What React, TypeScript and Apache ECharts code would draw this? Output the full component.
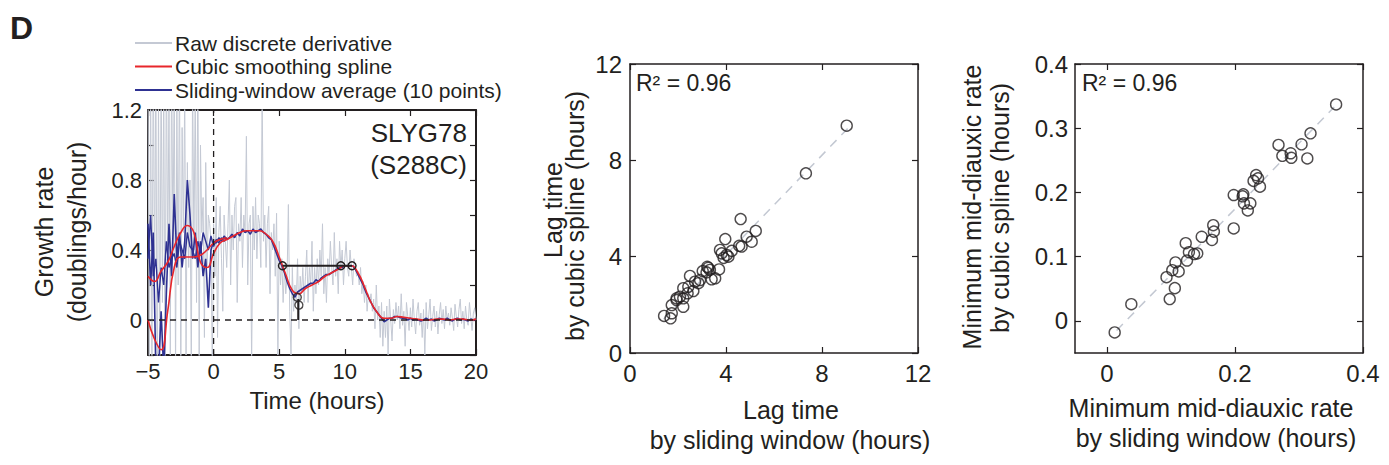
import React, { useEffect, useRef } from "react";
import * as echarts from "echarts";

const FONT = "'Liberation Sans', Arial, Helvetica, sans-serif";
const INK = "#231f20";
const GRAY = "#c4c9d4";
const RED = "#e8262b";
const BLUE = "#2e3192";

// ---------- Panel 1: growth-rate curves ----------
const RAW_T0 = -5;
const RAW_DT = 0.1;
const rawRate = [
  1.5, -0.5, 1.4, -0.4, 1.6, 0.2, 1.5, -0.6, 1.3, -0.3,
  1.5, 0.1, 1.4, -0.5, 1.6, 0.3, 1.3, -0.2, 1.5, 0.4,
  1.4, -0.3, 1.2, 0.2, 1.5, -0.4, 1.1, 0.5, 1.3, -0.2,
  0.9, 0.3, 0.8, -0.3, 1.4, 0.4, 1.3, 0.1, 1.5, -0.3,
  1.0, 0.5, 0.7, -0.1, 0.9, 0.3, 0.6, 0.55, 0.45, -0.3,
  0.55, 0.25, 0.7, -0.1, 0.5, 0.65, 0.35, 0.05, 0.6, 0.45,
  0.3, 0.55, 0.8, 0.2, 0.6, 0.4, 0.65, 0.7, 0.1, 0.55,
  0.45, 0.7, 0.3, 0.6, 0.5, 1.05, 0.2, 0.55, 0.6, -0.25,
  0.65, 0.4, 0.7, 0.35, 0.6, 0.55, 0.3, 1.3, 0.45, 0.6,
  0.3, 0.55, 0.65, 0.15, 0.5, 0.4, 0.55, 0.25, 0.61, -0.2,
  0.45, 0.2, 0.35, 0.1, 0.3, 0.15, 0.25, 0.66, 0.05, -0.2,
  0.3, 0.05, 0.2, 0.1, 0.35, -0.05, 0.25, 0.15, 0.3, 0.1,
  0.25, 0.4, 0.1, 0.3, 0.2, 0.45, 0.05, 0.3, 0.15, 0.35,
  0.2, 0.4, 0.25, 0.55, 0.15, 0.3, 0.1, 0.35, 0.25, 0.45,
  0.3, 0.2, 0.5, 0.25, 0.35, 0.15, 0.45, 0.3, 0.4, 0.2,
  0.35, 0.45, 0.3, 0.25, 0.4, 0.3, 0.2, 0.35, 0.3, 0.25,
  0.28, 0.2, 0.3, 0.15, 0.22, 0.1, 0.2, 0.05, 0.15, 0.1,
  0.15, 0.05, 0.12, -0.05, 0.2, 0.0, 0.08, -0.1, 0.1, -0.15,
  0.05, -0.1, 0.08, -0.2, 0.12, 0.0, -0.12, 0.06, -0.02, 0.1,
  0.0, 0.08, -0.05, 0.15, -0.03, 0.05, -0.15, 0.1, 0.02, -0.06,
  0.07, -0.04, 0.12, 0.0, -0.08, 0.05, 0.1, -0.03, 0.04, -0.1,
  0.06, -0.2, 0.1, -0.05, 0.03, 0.12, -0.06, 0.02, 0.08, -0.04,
  0.05, -0.08, 0.03, 0.1, -0.02, 0.06, -0.05, 0.08, 0.0, 0.04,
  -0.03, 0.07, 0.01, -0.06, 0.09, 0.02, -0.04, 0.06, 0.12, -0.02,
  0.05, -0.05, 0.08, 0.0, -0.03, 0.1, 0.02, -0.06, 0.04, 0.07,
  0.0,
];

const BLUE_T0 = -5;
const BLUE_DT = 0.2;
const blueMain = [
  0.55, 0.2, 0.5, -0.3, -0.3,
  0.05, -0.3, 0.15, 0.55, 0.25,
  0.72, 0.35, 0.5, 0.3, 0.45,
  0.8, 0.6, 0.35, 0.5, 0.3,
  0.45, 0.25, 0.35, 0.07, 0.4,
  0.45, 0.44, 0.47, 0.45, 0.48,
  0.46, 0.47, 0.49, 0.47, 0.5,
  0.48, 0.52, 0.5, 0.51, 0.49,
  0.52, 0.5, 0.51, 0.52, 0.5,
  0.49, 0.47, 0.46, 0.42, 0.38,
  0.34, 0.31, 0.27, 0.22, 0.18,
  0.15, 0.13, 0.16, 0.17, 0.18,
  0.19, 0.2, 0.21, 0.21, 0.23,
  0.22, 0.24, 0.25, 0.26, 0.26,
  0.27, 0.28, 0.29, 0.3, 0.3,
  0.31, 0.31, 0.31, 0.31, 0.29,
  0.26, 0.23, 0.2, 0.16, 0.13,
  0.1, 0.07, 0.05, 0.03, 0.01,
  -0.01, 0.0, 0.01, 0.01, 0.02,
  0.02, 0.015, 0.01, 0.01, 0.0,
  0.01, 0.0, 0.005, 0.0, -0.005,
  0.0, 0.01, 0.0, 0.005, -0.005,
  0.0, 0.01, 0.005, 0.0, 0.01,
  0.0, -0.005, 0.005, 0.01, 0.0,
  0.005, 0.0, -0.005, 0.005, 0.0,
  0.005,
];
const blueEarly = [
  0.35, 0.6, 0.25, 0.35, 0.1,
  0.3, 0.2, 0.45, 0.3, 0.35,
  0.38, 0.3, 0.45, 0.4, 0.35,
  0.5, 0.42, 0.4, 0.35, 0.45,
  0.38, 0.5, 0.45, 0.4, 0.48,
  0.42, 0.46, 0.44, 0.47, 0.45,
  0.47,
];

const RED_T0 = -5;
const RED_DT = 0.5;
const redMain = [
  0.25, 0.22, 0.28, 0.33, 0.42, 0.5, 0.54, 0.5, 0.33, 0.3,
  0.38, 0.44, 0.46, 0.48, 0.5, 0.51, 0.51, 0.51, 0.49, 0.45,
  0.36, 0.26, 0.17, 0.15, 0.18, 0.2, 0.22, 0.25, 0.27, 0.29,
  0.31, 0.31, 0.27, 0.19, 0.1, 0.04, 0.01, 0.01, 0.02, 0.015,
  0.01, 0.005, 0.0, 0.0, 0.005, 0.005, 0.0, 0.005, 0.005, 0.0,
  0.005,
];
const redEarly = [0.0, -0.11, -0.17, 0.05, 0.3, 0.36, 0.36, 0.36, 0.37, 0.4, 0.44, 0.46, 0.47];

const lagMarks = [[5.25, 0.31], [9.7, 0.31], [10.55, 0.31]];
const dipStem = [[6.45, 0], [6.45, 0.12]];
const dipMarks = [[6.38, 0.13], [6.5, 0.085]];
const zeroTimeLine = [[0, -0.2], [0, 1.2]];
const zeroRateLine = [[-5, 0], [20, 0]];

const timeTicks = [-5, 0, 5, 10, 15, 20];
const rateLabels = [0, 0.4, 0.8, 1.2];

// ---------- Panel 2: lag time ----------
const lagSliding = [9.03, 7.33, 4.61, 3.97, 5.24, 4.86, 5.07, 4.65, 4.55, 4.24, 4.03, 3.75, 3.82, 3.71, 3.4, 3.26, 3.19, 3.03, 2.92, 2.71, 2.5, 2.43, 2.22, 2.64, 2.4, 2.08, 2.22, 1.94, 2.22, 1.74, 1.94, 1.74, 1.69, 1.42, 3.33, 3.22, 3.55, 2.85, 4.1, 3.9];
const lagSpline = [9.44, 7.46, 5.56, 4.73, 5.07, 4.83, 4.62, 4.42, 4.45, 4.24, 4.07, 4.28, 4.14, 3.47, 3.06, 3.54, 3.35, 3.4, 3.03, 2.96, 3.2, 2.75, 2.69, 2.57, 2.48, 2.34, 2.27, 2.27, 1.92, 1.99, 2.2, 1.65, 1.44, 1.54, 3.45, 3.58, 3.1, 2.9, 4.0, 3.95];
const lagFit = [[1.4, 1.4], [9.1, 9.35]];
const lagTicks = [0, 4, 8, 12];

// ---------- Panel 3: minimum mid-diauxic rate ----------
const rateSliding = [0.358, 0.318, 0.304, 0.313, 0.287, 0.288, 0.274, 0.268, 0.233, 0.236, 0.229, 0.239, 0.213, 0.198, 0.212, 0.214, 0.224, 0.22, 0.198, 0.166, 0.167, 0.164, 0.148, 0.141, 0.128, 0.123, 0.125, 0.107, 0.112, 0.102, 0.093, 0.106, 0.098, 0.038, 0.012, 0.136];
const rateSpline = [0.337, 0.292, 0.275, 0.253, 0.261, 0.254, 0.257, 0.274, 0.227, 0.222, 0.218, 0.209, 0.197, 0.196, 0.194, 0.183, 0.183, 0.172, 0.144, 0.149, 0.139, 0.126, 0.131, 0.105, 0.107, 0.121, 0.094, 0.091, 0.077, 0.079, 0.068, 0.051, 0.034, 0.026, -0.018, 0.104];
const rateFit = [[0.015, -0.015], [0.355, 0.333]];
const rateXTicks = [0, 0.2, 0.4];
const rateYTicks = [0, 0.1, 0.2, 0.3, 0.4];

const r2Text = "R\u00B2 = 0.96";

const fmt = (v: number) => {
  const r = Math.round(v * 1000) / 1000;
  return r < 0 ? "\u2212" + String(Math.abs(r)) : String(r);
};

const grids = [
  { left: 148, top: 110, width: 328, height: 245 },
  { left: 630, top: 64, width: 288, height: 289 },
  { left: 1075, top: 64, width: 288, height: 289 },
];

function makeAxis(kind: "x" | "y", gridIndex: number, min: number, max: number, interval: number, lw: number, tickVals: number[] | null, labelVals: number[] | null, mirror: boolean, margin: number, fontSize: number) {
  const position = kind === "x" ? (mirror ? "top" : "bottom") : mirror ? "right" : "left";
  const tick: any = { show: true, inside: true, length: 6, lineStyle: { color: INK, width: 1.2 } };
  if (tickVals) tick.customValues = tickVals;
  const label: any = {
    show: !mirror,
    color: INK,
    fontFamily: FONT,
    fontSize,
    margin,
    formatter: (v: number) => fmt(v),
  };
  if (labelVals) label.customValues = labelVals;
  return {
    type: "value",
    gridIndex,
    position,
    min,
    max,
    interval,
    axisLine: { show: true, onZero: false, lineStyle: { color: INK, width: lw } },
    axisTick: tick,
    axisLabel: label,
    splitLine: { show: false },
  };
}

const pairs = (t0: number, dt: number, vals: number[]) => vals.map((v, i) => [+(t0 + i * dt).toFixed(3), v]);
const zip = (xs: number[], ys: number[]) => xs.map((x, i) => [x, ys[i]]);

const lineBase = { type: "line", showSymbol: false, symbol: "none", silent: true, clip: true, xAxisIndex: 0, yAxisIndex: 0 };
const openCircle = { color: "rgba(0,0,0,0)", borderColor: INK, borderWidth: 1.4 };

const txt = (text: string, x: number, y: number, size: number, extra: any = {}, rotation = 0) => ({
  type: "text",
  x,
  y,
  rotation,
  silent: true,
  style: { text, fontSize: size, fontFamily: FONT, fill: INK, align: "center", verticalAlign: "middle", ...extra },
});

const option: any = {
  animation: false,
  backgroundColor: "#ffffff",
  grid: grids.map((g) => ({ ...g, containLabel: false, outerBoundsMode: "none" })),
  xAxis: [
    makeAxis("x", 0, -5, 20, 5, 2, null, timeTicks, false, 5, 22),
    makeAxis("x", 0, -5, 20, 5, 2, null, null, true, 5, 22),
    makeAxis("x", 1, 0, 12, 4, 1.5, null, lagTicks, false, 8, 24),
    makeAxis("x", 1, 0, 12, 4, 1.5, null, null, true, 8, 24),
    makeAxis("x", 2, -0.05, 0.4, 0.05, 1.5, rateXTicks, rateXTicks, false, 8, 24),
    makeAxis("x", 2, -0.05, 0.4, 0.05, 1.5, rateXTicks, [], true, 8, 24),
  ],
  yAxis: [
    makeAxis("y", 0, -0.2, 1.2, 0.2, 2, null, rateLabels, false, 6, 22),
    makeAxis("y", 0, -0.2, 1.2, 0.2, 2, null, [], true, 6, 22),
    makeAxis("y", 1, 0, 12, 4, 1.5, null, lagTicks, false, 8, 24),
    makeAxis("y", 1, 0, 12, 4, 1.5, null, null, true, 8, 24),
    makeAxis("y", 2, -0.05, 0.4, 0.05, 1.5, rateYTicks, rateYTicks, false, 7, 24),
    makeAxis("y", 2, -0.05, 0.4, 0.05, 1.5, rateYTicks, [], true, 7, 24),
  ],
  legend: {
    show: true,
    orient: "vertical",
    left: 135,
    top: 32,
    padding: 0,
    itemGap: 1.5,
    itemWidth: 37,
    itemHeight: 2,
    icon: "rect",
    selectedMode: false,
    textStyle: { color: INK, fontFamily: FONT, fontSize: 21, lineHeight: 22, padding: [0, 0, 0, -2] },
    data: ["Raw discrete derivative", "Cubic smoothing spline", "Sliding-window average (10 points)"],
  },
  series: [
    { ...lineBase, name: "Raw discrete derivative", data: pairs(RAW_T0, RAW_DT, rawRate), color: GRAY, lineStyle: { color: GRAY, width: 1 }, z: 1 },
    { ...lineBase, name: "Sliding-window average (10 points)", data: pairs(BLUE_T0, BLUE_DT, blueEarly), color: BLUE, lineStyle: { color: BLUE, width: 1.4 }, z: 2 },
    { ...lineBase, name: "Sliding-window average (10 points)", data: pairs(BLUE_T0, BLUE_DT, blueMain), color: BLUE, lineStyle: { color: BLUE, width: 1.6 }, z: 3 },
    { ...lineBase, name: "Cubic smoothing spline", data: pairs(RED_T0, RED_DT, redEarly), smooth: 0.5, color: RED, lineStyle: { color: RED, width: 1.6 }, z: 4 },
    { ...lineBase, name: "Cubic smoothing spline", data: pairs(RED_T0, RED_DT, redMain), smooth: 0.5, color: RED, lineStyle: { color: RED, width: 1.6 }, z: 4 },
    { ...lineBase, name: "zeroTime", data: zeroTimeLine, lineStyle: { color: INK, width: 1.3, type: [6, 5] }, z: 5 },
    { ...lineBase, name: "zeroRate", data: zeroRateLine, lineStyle: { color: INK, width: 1.3, type: [6, 5] }, z: 5 },
    { ...lineBase, name: "lagMarks", data: lagMarks, showSymbol: true, symbol: "circle", symbolSize: 8, itemStyle: openCircle, lineStyle: { color: INK, width: 2 }, z: 6 },
    { ...lineBase, name: "dipStem", data: dipStem, lineStyle: { color: INK, width: 2 }, z: 6 },
    { type: "scatter", name: "dipMarks", xAxisIndex: 0, yAxisIndex: 0, data: dipMarks, symbol: "circle", symbolSize: 8, itemStyle: openCircle, silent: true, z: 7 },

    { ...lineBase, name: "lagFit", xAxisIndex: 2, yAxisIndex: 2, data: lagFit, lineStyle: { color: "#c3c8d2", width: 1.5, type: [9, 7] }, z: 1 },
    { type: "scatter", name: "lag", xAxisIndex: 2, yAxisIndex: 2, data: zip(lagSliding, lagSpline), symbol: "circle", symbolSize: 11, itemStyle: openCircle, silent: true, z: 3 },

    { ...lineBase, name: "rateFit", xAxisIndex: 4, yAxisIndex: 4, data: rateFit, lineStyle: { color: "#c3c8d2", width: 1.5, type: [9, 7] }, z: 1 },
    { type: "scatter", name: "rate", xAxisIndex: 4, yAxisIndex: 4, data: zip(rateSliding, rateSpline), symbol: "circle", symbolSize: 11, itemStyle: openCircle, silent: true, z: 3 },
  ],
  graphic: [
    txt("D", 10, 28, 32, { fontWeight: "bold", align: "left" }),
    txt("SLYG78", 467, 133, 26, { align: "right" }),
    txt("(S288C)", 467, 165, 26, { align: "right" }),
    txt("Growth rate", 44, 232, 25, {}, Math.PI / 2),
    txt("(doublings/hour)", 77, 232, 25, {}, Math.PI / 2),
    txt("Time (hours)", 317, 400, 24),
    txt("Lag time", 553, 210, 25, {}, Math.PI / 2),
    txt("by cubic spline (hours)", 575, 216, 25, {}, Math.PI / 2),
    txt("Lag time", 791, 410, 25),
    txt("by sliding window (hours)", 790, 440, 25),
    txt(r2Text, 636, 83, 23, { align: "left" }),
    txt("Minimum mid-diauxic rate", 972, 207, 25, {}, Math.PI / 2),
    txt("by cubic spline (hours)", 1000, 208, 25, {}, Math.PI / 2),
    txt("Minimum mid-diauxic rate", 1211, 408, 25),
    txt("by sliding window (hours)", 1216, 438, 25),
    txt(r2Text, 1082, 83, 23, { align: "left" }),
  ],
};

export default function App() {
  const ref = useRef<HTMLDivElement>(null);
  useEffect(() => {
    if (!ref.current) return;
    const chart = echarts.init(ref.current, null, { renderer: "svg" });
    chart.setOption(option);
    return () => chart.dispose();
  }, []);
  return <div ref={ref} style={{ position: "absolute", left: 0, top: 0, width: 1389, height: 465, background: "#fff" }} />;
}
